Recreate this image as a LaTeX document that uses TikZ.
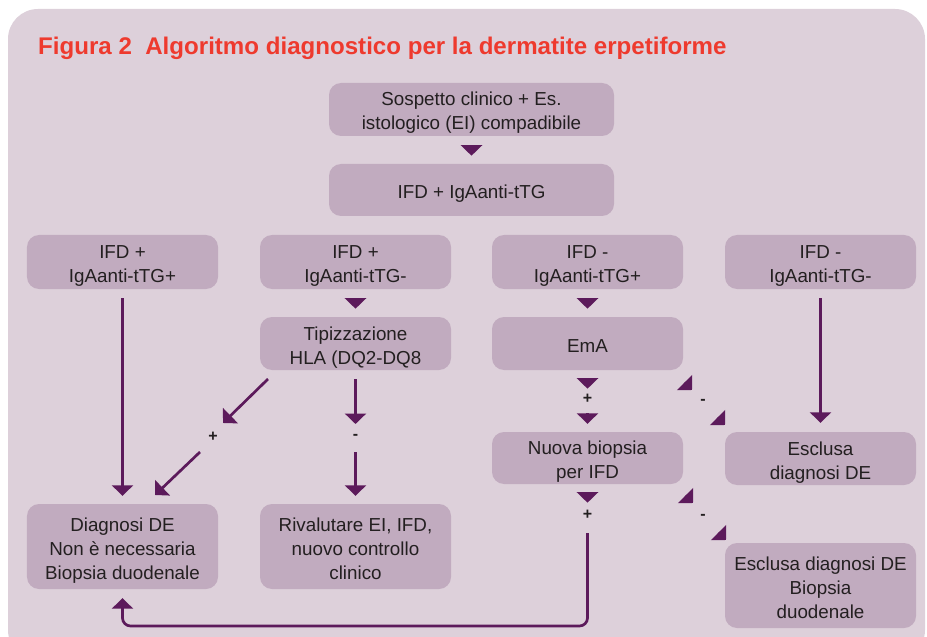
\documentclass[tikz,border=0pt]{standalone}
\usepackage{fontspec}
\setmainfont{Liberation Sans}
\usetikzlibrary{arrows.meta,calc}
\definecolor{bgc}{HTML}{DDD0DA}
\definecolor{boxc}{HTML}{C1ABBF}
\definecolor{arrc}{HTML}{5C1A5B}
\definecolor{titc}{HTML}{EE3A2E}
\definecolor{txtc}{HTML}{231F20}
\newcommand\myTS{\rule{0pt}{21bp}}
\newcommand\myBS{\rule[-4bp]{0pt}{4bp}}
\begin{document}
\begin{tikzpicture}[x=1bp,y=-1bp,
  box/.style={fill=boxc, rounded corners=12bp, minimum width=191bp, align=center,
    text=txtc, font=\fontsize{18.8bp}{24bp}\selectfont, inner sep=0pt},
  arr/.style={draw=arrc, line width=2.7bp, -{Triangle[width=21bp,length=10.5bp]}},
  sign/.style={font=\bfseries\fontsize{16bp}{16bp}\selectfont, text=txtc, inner sep=0pt}]
\useasboundingbox (0,0) rectangle (927,637);
\clip (0,0) rectangle (927,637);
\fill[bgc, rounded corners=30bp] (8,9) rectangle (925,660);
\node[anchor=base west, inner sep=0pt, text=titc, font=\bfseries\fontsize{24.1bp}{26bp}\selectfont] (title) at (38,55) {Figura 2\ \ Algoritmo diagnostico per la dermatite erpetiforme};
% boxes
\node[box, minimum width=285bp, minimum height=53bp] (A) at (471.5,109.5) {\myTS Sospetto clinico + Es.\\istologico (EI) compadibile\myBS};
\node[box, minimum width=285bp, minimum height=52bp] (B) at (471.5,190) {\myTS IFD + IgAanti-tTG\myBS};
\node[box, minimum height=54bp] (C1) at (122.5,262) {\myTS IFD +\\IgAanti-tTG+\myBS};
\node[box, minimum height=54bp] (C2) at (355.5,262) {\myTS IFD +\\IgAanti-tTG-\myBS};
\node[box, minimum height=54bp] (C3) at (587.5,262) {\myTS IFD -\\IgAanti-tTG+\myBS};
\node[box, minimum height=54bp] (C4) at (820.5,262) {\myTS IFD -\\IgAanti-tTG-\myBS};
\node[box, minimum height=53bp] (Tip) at (355.5,343.5) {\myTS Tipizzazione\\HLA (DQ2-DQ8\myBS};
\node[box, minimum height=53bp] (EmA) at (587.5,343.5) {\myTS EmA\myBS};
\node[box, minimum height=52bp] (Nuova) at (587.5,458) {\myTS Nuova biopsia\\per IFD\myBS};
\node[box, minimum height=53bp] (Escl1) at (820.5,458.5) {\myTS Esclusa\\diagnosi DE\myBS};
\node[box, minimum height=85bp] (Diag) at (122.5,546.5) {\myTS Diagnosi DE\\Non è necessaria\\Biopsia duodenale\myBS};
\node[box, minimum height=85bp] (Rival) at (355.5,546.5) {\myTS Rivalutare EI, IFD,\\nuovo controllo\\clinico\myBS};
\node[box, minimum height=85bp] (Escl2) at (820.5,585.5) {\myTS Esclusa diagnosi DE\\Biopsia\\duodenale\myBS};
% signs
\node[sign] (sTipP) at (213,437) {+};
\node[sign] (sTipM) at (355.5,437) {-};
\node[sign] (sEmaP) at (587.5,399) {+};
\node[sign] (sEmaM) at (703,402) {-};
\node[sign] (sNuoM) at (703,517) {-};
\node[sign] (sNuoP) at (587.5,515) {+};
% free ends
\coordinate (d1s) at (268,379);
\coordinate (d1e) at (223,423);
\coordinate (d2s) at (200,452);
\coordinate (d2e) at (155,495);
\coordinate (h1e) at (692,390);
\coordinate (h2e) at (725,425);
\coordinate (h3e) at (693,503);
\coordinate (h4e) at (726,540);
\coordinate (loopS) at (587.5,533);
% connectors
\draw[arr] ([yshift=-9bp]A.south) -- ([yshift=-19.5bp]A.south);
\draw[arr] ([yshift=-9bp]C1.south) -- ([yshift=8bp]Diag.north);
\draw[arr] ([yshift=-9bp]C2.south) -- ([yshift=-19.5bp]C2.south);
\draw[arr] ([yshift=-9bp]C3.south) -- ([yshift=-19.5bp]C3.south);
\draw[arr] ([yshift=-9bp]C4.south) -- ([yshift=9bp]Escl1.north);
\draw[arr] (d1s) -- (d1e);
\draw[arr] (d2s) -- (d2e);
\draw[arr] ([yshift=-9bp]Tip.south) -- ([yshift=13bp]sTipM.center);
\draw[arr] ([yshift=-15bp]sTipM.center) -- ([yshift=8bp]Rival.north);
\draw[arr] ([yshift=-8bp]EmA.south) -- ([yshift=-18.5bp]EmA.south);
\draw[arr] ([yshift=18.5bp]Nuova.north) -- ([yshift=8bp]Nuova.north);
\draw[arr] ($(h1e)+(-7.42,-7.42)$) -- (h1e);
\draw[arr] ($(h2e)+(-7.42,-7.42)$) -- (h2e);
\draw[arr] ($(h3e)+(-7.42,-7.42)$) -- (h3e);
\draw[arr] ($(h4e)+(-7.42,-7.42)$) -- (h4e);
\draw[arr] ([yshift=-8bp]Nuova.south) -- ([yshift=-18.5bp]Nuova.south);
\draw[arr, rounded corners=8bp] (loopS) -- (587.5,626) -- (Diag.south |- 0,626) -- ([yshift=-9bp]Diag.south);
\end{tikzpicture}
\end{document}
